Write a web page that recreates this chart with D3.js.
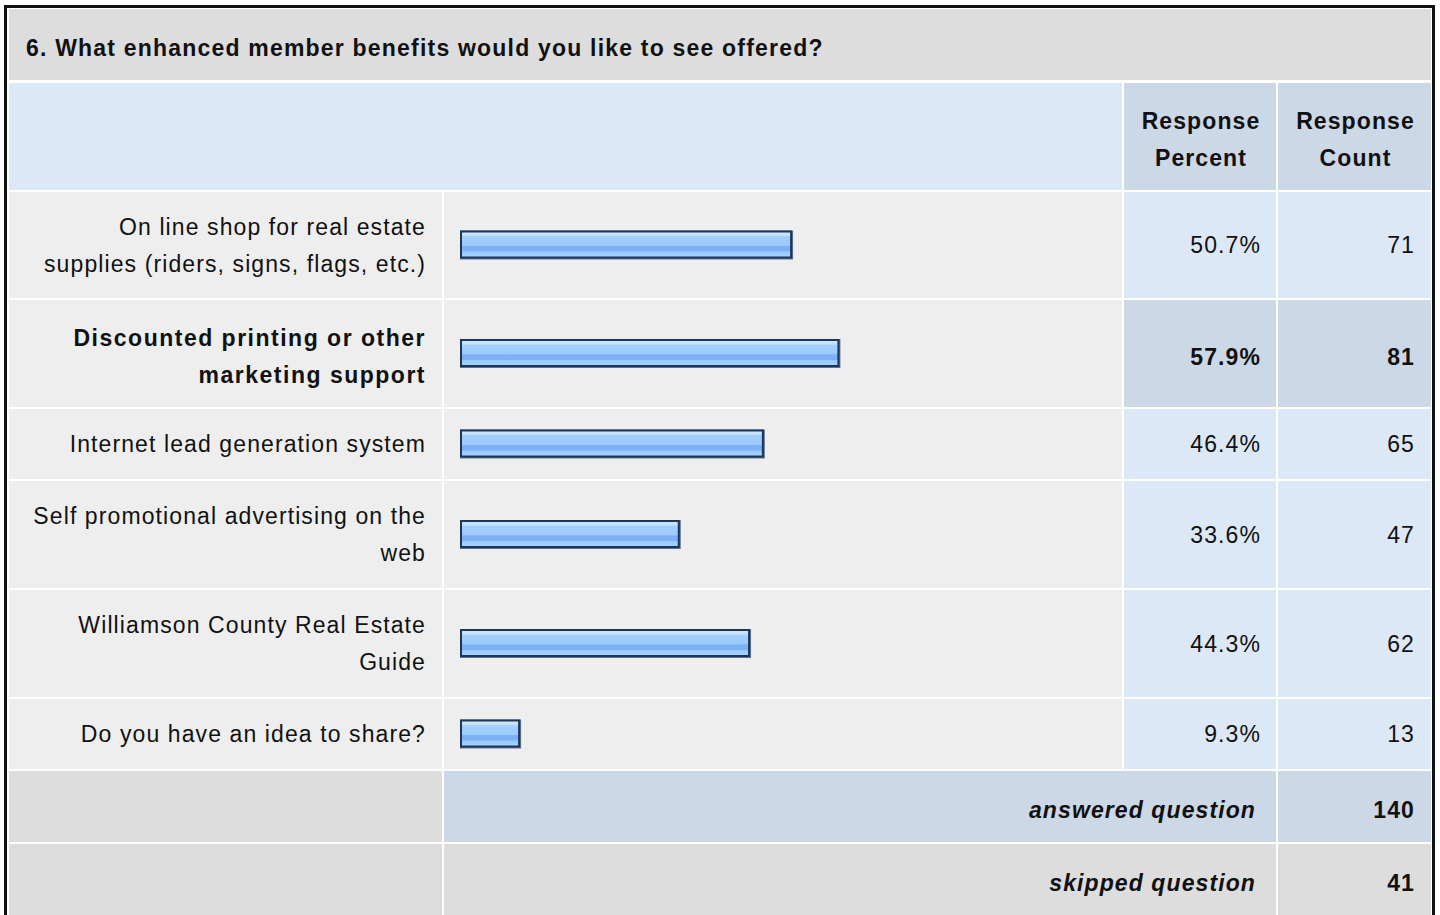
<!DOCTYPE html>
<html>
<head>
<meta charset="utf-8">
<script src="https://cdn.jsdelivr.net/npm/d3@7"></script>
<style>
  html, body { margin: 0; padding: 0; background: #fff; }
  svg { display: block; font-family: "Liberation Sans", Arial, sans-serif; }
  text { letter-spacing: 1.1px; fill: #111; }
</style>
</head>
<body>
<svg id="chart"></svg>
<script>
// survey data
var question = "6. What enhanced member benefits would you like to see offered?";
var answerLines = [
  ["On line shop for real estate", "supplies (riders, signs, flags, etc.)"],
  ["Discounted printing or other", "marketing support"],
  ["Internet lead generation system"],
  ["Self promotional advertising on the", "web"],
  ["Williamson County Real Estate", "Guide"],
  ["Do you have an idea to share?"]
];
var percents = [50.7, 57.9, 46.4, 33.6, 44.3, 9.3];
var counts = [71, 81, 65, 47, 62, 13];
var headerLines = [["Response", "Percent"], ["Response", "Count"]];
var answered = 140;
var skipped = 41;

var width = 1440, height = 915;
var svg = d3.select('#chart').attr('width', width).attr('height', height);

// column edges
var colLabel = [9, 442], colBar = [444, 1122], colPct = [1124, 1276], colCnt = [1278, 1431];
var fs = 23, lineGap = 37;

// bar scale: 0..100%
var x = d3.scaleLinear().domain([0, 100]).range([460, 1117]);

// row layout
var rowH = answerLines.map(function(l){ return l.length > 1 ? 107 : 70; });
rowH[0] = 106;
var gap = 2;
var titleTop = 9, titleH = 71;
var headTop = 83, headH = 107;
var rowTop = [];
var yy = headTop + headH + gap;
rowH.forEach(function(h){ rowTop.push(yy); yy += h + gap; });
var ansTop = yy, ansH = 71;
var skipTop = ansTop + ansH + gap, skipH = 80;

var maxI = d3.maxIndex(percents);

var defs = svg.append('defs');
var grad = defs.append('linearGradient').attr('id', 'barGrad')
  .attr('x1', 0).attr('y1', 0).attr('x2', 0).attr('y2', 1);
[[0, '#cde6ff'], [0.14, '#c3e0fe'], [0.16, '#a3cffd'], [0.55, '#9ccafc'], [0.57, '#7cb2f5'],
 [0.78, '#7cb2f5'], [0.8, '#98c8fb'], [1, '#a6d1fd']].forEach(function(s){
  grad.append('stop').attr('offset', s[0]).attr('stop-color', s[1]);
});

function cell(x0, x1, y0, h, fill) {
  svg.append('rect').attr('x', x0).attr('y', y0).attr('width', x1 - x0).attr('height', h).attr('fill', fill);
}
// bold text sits a little lower in the original
function txt(tx, ty, s, anchor, weight, style) {
  var dy = weight === 'bold' ? 3 : 0;
  return svg.append('text').attr('x', tx).attr('y', ty + dy).attr('text-anchor', anchor || 'start')
    .attr('font-size', fs).attr('font-weight', weight || 'normal')
    .attr('font-style', style || 'normal').text(s);
}

// title
cell(9, 1431, titleTop, titleH, '#dddddd');
txt(26, titleTop + titleH / 2 + 8, question, 'start', 'bold').style('letter-spacing', '1.2px');

// header
cell(colLabel[0], colBar[1], headTop, headH, '#dce8f5');
cell(colPct[0], colPct[1], headTop, headH, '#ccd8e6');
cell(colCnt[0], colCnt[1], headTop, headH, '#ccd8e6');
headerLines.forEach(function(lines, j){
  var c = j === 0 ? colPct : colCnt;
  lines.forEach(function(s, k){
    txt((c[0] + c[1]) / 2 + 1, headTop + headH / 2 + 8 + (k - 0.5) * lineGap, s, 'middle', 'bold');
  });
});

// answer rows
var rows = svg.selectAll('g.row').data(percents).enter().append('g').attr('class', 'row');
rows.each(function(p, i){
  var top = rowTop[i], h = rowH[i], mid = top + h / 2;
  var bold = i === maxI ? 'bold' : 'normal';
  cell(colLabel[0], colLabel[1], top, h, '#eeeeee');
  cell(colBar[0], colBar[1], top, h, '#eeeeee');
  cell(colPct[0], colPct[1], top, h, i === maxI ? '#ccd8e6' : '#dce8f5');
  cell(colCnt[0], colCnt[1], top, h, i === maxI ? '#ccd8e6' : '#dce8f5');
  var lines = answerLines[i];
  lines.forEach(function(s, k){
    txt(426, mid + 8 + (k - (lines.length - 1) / 2) * lineGap, s, 'end', bold)
      .style('letter-spacing', bold === 'bold' ? '1.5px' : null);
  });
  // bar
  var bh = 29, by = mid - bh / 2;
  svg.append('rect').attr('x', x(0)).attr('y', by).attr('width', x(p) - x(0)).attr('height', bh)
    .attr('fill', '#5d7391');
  svg.append('rect').attr('x', x(0)).attr('y', by).attr('width', x(p) - x(0) - 1).attr('height', bh - 1)
    .attr('fill', '#1c3659');
  svg.append('rect').attr('x', x(0) + 2).attr('y', by + 2).attr('width', x(p) - x(0) - 5).attr('height', bh - 5)
    .attr('fill', 'url(#barGrad)');
  txt(1261, mid + 8, d3.format('.1f')(p) + '%', 'end', bold);
  txt(1415, mid + 8, counts[i], 'end', bold);
});

// answered / skipped
cell(colLabel[0], colLabel[1], ansTop, ansH, '#dddddd');
cell(colBar[0], colPct[1], ansTop, ansH, '#ccd8e6');
cell(colCnt[0], colCnt[1], ansTop, ansH, '#ccd8e6');
txt(1256, ansTop + ansH / 2 + 8, 'answered question', 'end', 'bold', 'italic');
txt(1415, ansTop + ansH / 2 + 8, answered, 'end', 'bold');

cell(colLabel[0], colLabel[1], skipTop, skipH, '#dddddd');
cell(colBar[0], colPct[1], skipTop, skipH, '#dddddd');
cell(colCnt[0], colCnt[1], skipTop, skipH, '#dddddd');
txt(1256, skipTop + 71 / 2 + 8, 'skipped question', 'end', 'bold', 'italic');
txt(1415, skipTop + 71 / 2 + 8, skipped, 'end', 'bold');

// outer frame
svg.append('rect').attr('x', 5.5).attr('y', 6.5).attr('width', 1428).attr('height', 950)
  .attr('fill', 'none').attr('stroke', '#111').attr('stroke-width', 3);
</script>
</body>
</html>
